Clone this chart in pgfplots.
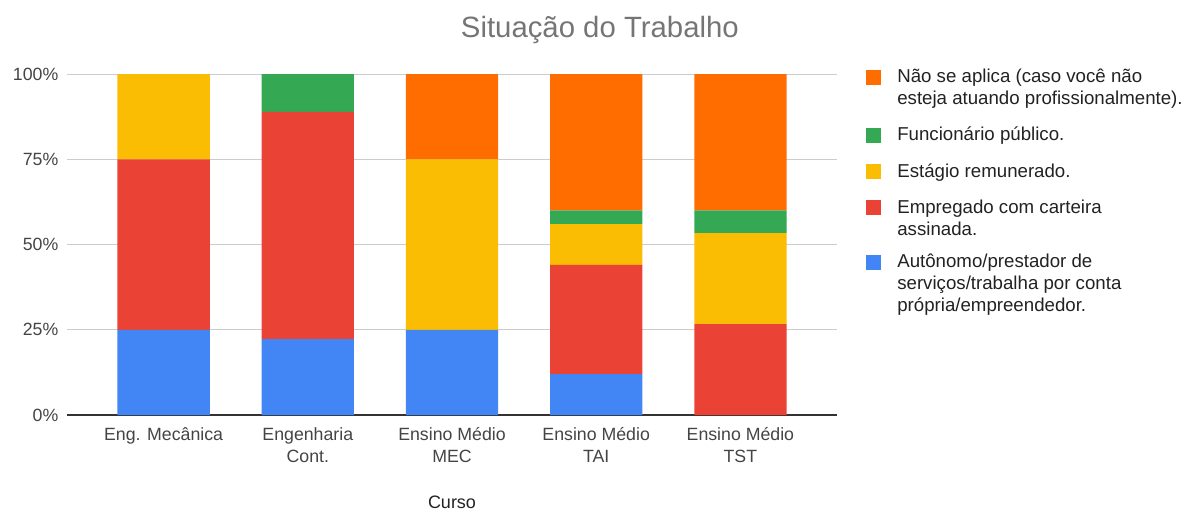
\documentclass[border=0pt]{standalone}
\usepackage{pgfplots}
\pgfplotsset{compat=1.18}
\usepackage{fontspec}
\setmainfont{Liberation Sans}
\definecolor{cblue}{HTML}{4285F4}
\definecolor{cred}{HTML}{EA4335}
\definecolor{cyellow}{HTML}{FBBC04}
\definecolor{cgreen}{HTML}{34A853}
\definecolor{corange}{HTML}{FF6D01}
\definecolor{ctick}{HTML}{444444}
\definecolor{ctitle}{HTML}{757575}
\definecolor{cgrid}{HTML}{CCCCCC}
\definecolor{clegend}{HTML}{222222}
\begin{document}
\begin{tikzpicture}
\useasboundingbox (-50.25pt,-72.75pt) rectangle (843pt,311.25pt);
\begin{axis}[
  scale only axis,
  width=577.5pt, height=255.75pt,
  ybar stacked,
  bar width=0.64,
  xmin=-0.67, xmax=4.67,
  ymin=0, ymax=100,
  xtick={0,1,2,3,4},
  xticklabels={Eng. Mecânica, Engenharia\\Cont., Ensino Médio\\MEC, Ensino Médio\\TAI, Ensino Médio\\TST},
  xticklabel style={align=center, font=\fontsize{13.3}{16.5}\selectfont, text=ctick, yshift=-6pt},
  ytick={0,25,50,75,100},
  yticklabels={0\%,25\%,50\%,75\%,100\%},
  yticklabel style={font=\fontsize{13.3}{15}\selectfont, text=ctick, xshift=-3pt},
  major tick length=0pt,
  ymajorgrids,
  grid style={cgrid, line width=0.75pt},
  axis x line*=bottom,
  axis y line*=left,
  y axis line style={draw=none},
  x axis line style={draw=black!80, line width=0.9pt},
  xlabel={Curso},
  xlabel style={at={(axis description cs:0.5,0)}, anchor=center, yshift=-65.5pt, font=\fontsize{13.5}{15}\selectfont, text=clegend},
  title={Situação do Trabalho},
  title style={at={(axis description cs:0.692,1.106)}, anchor=center, font=\fontsize{22}{25}\selectfont, text=ctitle},
  reverse legend,
  legend style={at={(axis description cs:1.0377,1.0235)}, anchor=north west, draw=none, fill=none,
    font=\fontsize{14}{16.5}\selectfont, text=clegend, row sep=10pt, inner sep=0pt,
    column sep=10pt, nodes={text depth={}}, cells={anchor=base west}},
  legend image code/.code={\fill[#1] (0pt,-1.5pt) rectangle (11.25pt,9.75pt);},
  every axis plot/.append style={draw=none},
]
\addplot[fill=cblue] coordinates {(0,25) (1,22.22) (2,25) (3,12) (4,0)};
\addlegendentry{\parbox[t]{230pt}{Autônomo/prestador de\\serviços/trabalha por conta\\própria/empreendedor.}}
\addplot[fill=cred] coordinates {(0,50) (1,66.67) (2,0) (3,32) (4,26.67)};
\addlegendentry{\parbox[t]{230pt}{Empregado com carteira\\assinada.}}
\addplot[fill=cyellow] coordinates {(0,25) (1,0) (2,50) (3,12) (4,26.67)};
\addlegendentry{Estágio remunerado.}
\addplot[fill=cgreen] coordinates {(0,0) (1,11.11) (2,0) (3,4) (4,6.67)};
\addlegendentry{Funcionário público.}
\addplot[fill=corange] coordinates {(0,0) (1,0) (2,25) (3,40) (4,40)};
\addlegendentry{\parbox[t]{230pt}{Não se aplica (caso você não\\esteja atuando profissionalmente).}}
\end{axis}
\end{tikzpicture}
\end{document}
